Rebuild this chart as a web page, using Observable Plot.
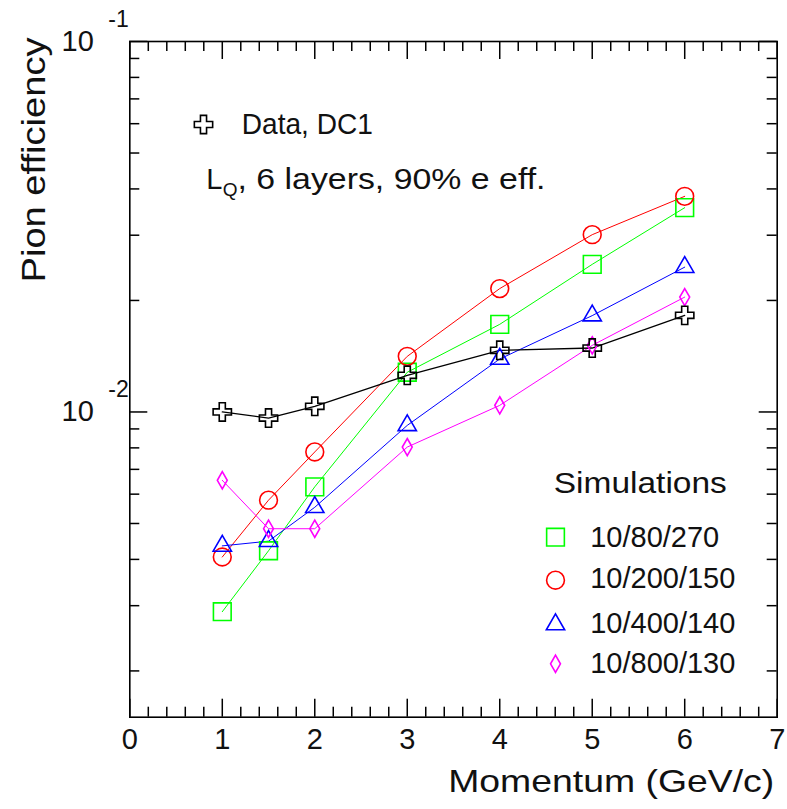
<!DOCTYPE html>
<html><head><meta charset="utf-8">
<script src="https://cdn.jsdelivr.net/npm/d3@7"></script>
<script src="https://cdn.jsdelivr.net/npm/@observablehq/plot@0.6"></script>
<style>html,body{margin:0;padding:0;background:#fff;} svg{display:block;}</style>
</head><body><div id="chart"></div>
<script>
// ---- data ----
const momentum = [1, 1.5, 2, 3, 4, 5, 6];
const dataDC1      = [0.0100, 0.00963, 0.01036, 0.01256, 0.01467, 0.01488, 0.01823];
const sim_10_80_270  = [0.00289, 0.00422, 0.00628, 0.0128, 0.01724, 0.02503, 0.0356];
const sim_10_200_150 = [0.00406, 0.00578, 0.0078, 0.01413, 0.02153, 0.0301, 0.0382];
const sim_10_400_140 = [0.00435, 0.00448, 0.00553, 0.0092, 0.0139, 0.0182, 0.0246];
const sim_10_800_130 = [0.00654, 0.00484, 0.00484, 0.00804, 0.01042, 0.01513, 0.02042];
const seriesNames = ["10/80/270", "10/200/150", "10/400/140", "10/800/130"];
const dataLabel = "Data, DC1";
const xMajorTicks = [0, 1, 2, 3, 4, 5, 6, 7];
const xMinorTicks = [0.2,0.4,0.6,0.8,1.2,1.4,1.6,1.8,2.2,2.4,2.6,2.8,3.2,3.4,3.6,3.8,4.2,4.4,4.6,4.8,5.2,5.4,5.6,5.8,6.2,6.4,6.6,6.8];
const yMajorTicks = [0.01, 0.1];
const yMinorTicks = [0.002,0.003,0.004,0.005,0.006,0.007,0.008,0.009,0.02,0.03,0.04,0.05,0.06,0.07,0.08,0.09];
const yTickBase = ["10", "10"];
const yTickExp = ["-2", "-1"];

// ---- layout ----
const W = 787, H = 809;
const mL = 129.3, mT = 41, mR = 10.3, mB = 92.3;
const innerW = W - mL - mR, innerH = H - mT - mB;

const series = [
  {name: seriesNames[0], values: sim_10_80_270,  color: "#00ff00", symbol: "square",   r: 10},
  {name: seriesNames[1], values: sim_10_200_150, color: "#ff0000", symbol: "circle",   r: 8.9},
  {name: seriesNames[2], values: sim_10_400_140, color: "#0000ff", symbol: "triangle", r: 6.8},
  {name: seriesNames[3], values: sim_10_800_130, color: "#ff00ff", symbol: "diamond",  r: 5.2}
];
const dataSeries = {name: dataLabel, values: dataDC1, color: "#000000", symbol: "cross", r: 7.7};

const rows = s => momentum.map((m, i) => ({x: m, y: s.values[i]}));

const marks = [];
// lines
for (const s of [...series, dataSeries]) {
  marks.push(Plot.line(rows(s), {x: "x", y: "y", stroke: s.color, strokeWidth: s === dataSeries ? 1.3 : 1}));
}
// markers
for (const s of [...series, dataSeries]) {
  marks.push(Plot.dot(rows(s), {x: "x", y: "y", symbol: s.symbol, r: s.r, stroke: s.color, fill: "none", strokeWidth: 1.6}));
}
// frame & ticks (inward, all four sides)
const tk = 1.5, major = 18, minor = 10;
marks.push(
  Plot.frame({stroke: "black", strokeWidth: 1.6}),
  Plot.tickX(xMajorTicks, {x: d => d, insetTop: innerH - major, stroke: "black", strokeWidth: tk}),
  Plot.tickX(xMinorTicks, {x: d => d, insetTop: innerH - minor, stroke: "black", strokeWidth: tk}),
  Plot.tickX(xMajorTicks, {x: d => d, insetBottom: innerH - major, stroke: "black", strokeWidth: tk}),
  Plot.tickX(xMinorTicks, {x: d => d, insetBottom: innerH - minor, stroke: "black", strokeWidth: tk}),
  Plot.tickY(yMajorTicks, {y: d => d, insetRight: innerW - major, stroke: "black", strokeWidth: tk}),
  Plot.tickY(yMinorTicks, {y: d => d, insetRight: innerW - minor, stroke: "black", strokeWidth: tk}),
  Plot.tickY(yMajorTicks, {y: d => d, insetLeft: innerW - major, stroke: "black", strokeWidth: tk}),
  Plot.tickY(yMinorTicks, {y: d => d, insetLeft: innerW - minor, stroke: "black", strokeWidth: tk}),
  Plot.axisX({ticks: xMajorTicks, tickSize: 0, tickPadding: 11, fontSize: 29, label: null, tickFormat: d => String(d)}),
  Plot.text(yMajorTicks, {y: d => d, text: (d, i) => yTickBase[i], frameAnchor: "left", textAnchor: "end", dx: -36, fontSize: 29, fill: "#111"}),
  Plot.text(yMajorTicks, {y: d => d, text: (d, i) => yTickExp[i], frameAnchor: "left", textAnchor: "end", dx: -1, dy: -22, fontSize: 23, fill: "#111"}),
  // axis titles
  Plot.text(["Momentum (GeV/c)"], {frameAnchor: "bottom-right", textAnchor: "end", lineAnchor: "middle", dx: -3, dy: 64.7, fontSize: 32, fill: "#111"}),
  Plot.text(["Pion efficiency"], {frameAnchor: "top-left", textAnchor: "middle", lineAnchor: "middle", rotate: -90, dx: -95.3, dy: 118.5, fontSize: 34, fill: "#111"}),
  // data legend
  Plot.dot([dataSeries], {frameAnchor: "top-left", dx: 73.7, dy: 83, symbol: dataSeries.symbol, r: dataSeries.r, stroke: dataSeries.color, fill: "none", strokeWidth: 1.6}),
  Plot.text([dataLabel], {frameAnchor: "top-left", textAnchor: "start", lineAnchor: "middle", dx: 112, dy: 83, fontSize: 29, fill: "#111"}),
  Plot.text(["L"], {frameAnchor: "top-left", textAnchor: "start", lineAnchor: "middle", dx: 76.5, dy: 138.5, fontSize: 29, fill: "#111"}),
  Plot.text(["Q"], {frameAnchor: "top-left", textAnchor: "start", lineAnchor: "middle", dx: 93, dy: 148, fontSize: 19, fill: "#111"}),
  Plot.text([", 6 layers, 90% e eff."], {frameAnchor: "top-left", textAnchor: "start", lineAnchor: "middle", dx: 107.7, dy: 138.5, fontSize: 29, fill: "#111"}),
  // simulations legend
  Plot.text(["Simulations"], {frameAnchor: "top-left", textAnchor: "start", lineAnchor: "middle", dx: 424, dy: 441.5, fontSize: 30, fill: "#111"})
);
const legendDy = [495.7, 538.7, 583, 622.3];
const legendTextDy = [496, 537.5, 582, 622];
series.forEach((s, i) => {
  marks.push(
    Plot.dot([s], {frameAnchor: "top-left", dx: 425.7, dy: legendDy[i], symbol: s.symbol, r: s.r, stroke: s.color, fill: "none", strokeWidth: 1.6}),
    Plot.text([s.name], {frameAnchor: "top-left", textAnchor: "start", lineAnchor: "middle", dx: 460.4, dy: legendTextDy[i], fontSize: 29, fill: "#111"})
  );
});

const chart = Plot.plot({
  width: W, height: H,
  marginLeft: mL, marginTop: mT, marginRight: mR, marginBottom: mB,
  style: {fontFamily: "'Liberation Sans', Arial, Helvetica, sans-serif", background: "#fff", color: "#111"},
  x: {domain: [0, 7]},
  y: {type: "log", domain: [0.0015, 0.1], axis: null},
  marks
});
document.getElementById("chart").append(chart);

// stretch wide-lettered texts to the reference widths
const targetWidths = {
  "Momentum (GeV/c)": 326,
  "Pion efficiency": 245,
  "Simulations": 173,
  ", 6 layers, 90% e eff.": 308,
  "Data, DC1": 131
};
chart.querySelectorAll("text").forEach(t => {
  const w = targetWidths[t.textContent];
  if (w) { t.setAttribute("textLength", w); t.setAttribute("lengthAdjust", "spacingAndGlyphs"); }
});
</script>
</body></html>
